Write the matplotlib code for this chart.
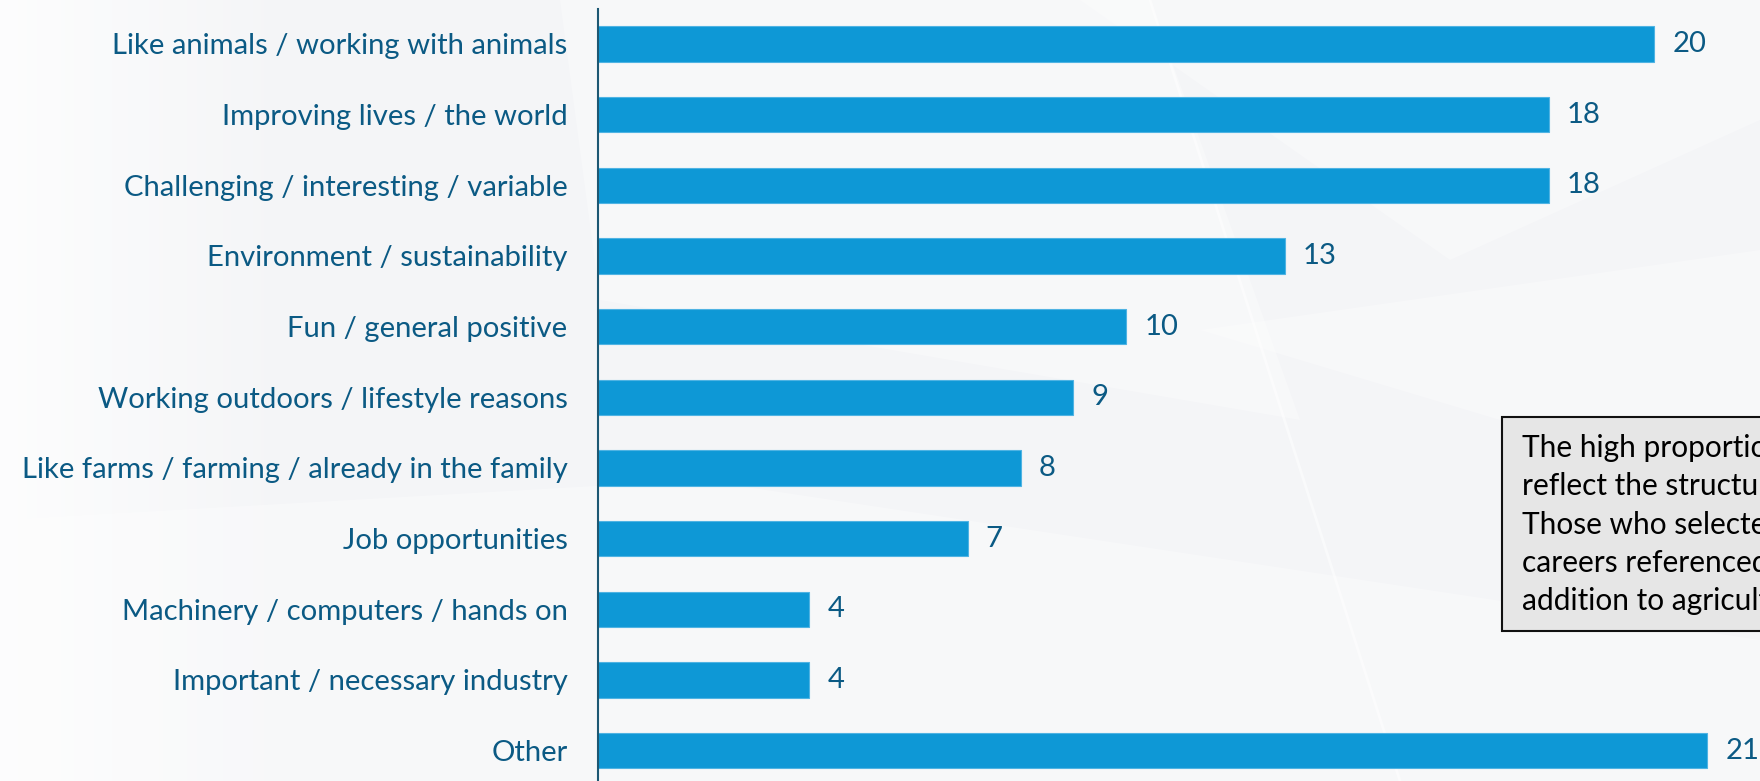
import matplotlib
matplotlib.use("Agg")
import matplotlib.pyplot as plt
from matplotlib.patches import Polygon, Rectangle
import numpy as np

# data, top to bottom
categories = [
    "Like animals / working with animals",
    "Improving lives / the world",
    "Challenging / interesting / variable",
    "Environment / sustainability",
    "Fun / general positive",
    "Working outdoors / lifestyle reasons",
    "Like farms / farming / already in the family",
    "Job opportunities",
    "Machinery / computers / hands on",
    "Important / necessary industry",
    "Other",
]
values = [20, 18, 18, 13, 10, 9, 8, 7, 4, 4, 21]

note_lines = [
    "The high proportion",
    "reflect the structure",
    "Those who selected",
    "careers referenced",
    "addition to agriculture",
]

bar_color = "#0e98d6"
label_color = "#0b5a84"
font = ["Lato", "DejaVu Sans"]

W, H = 1760, 781
fig = plt.figure(figsize=(W / 100, H / 100), dpi=100)
fig.patch.set_facecolor("#f4f5f7")

# faint background shapes (slide template)
bg = fig.add_axes([0, 0, 1, 1], zorder=-10)
bg.set_xlim(0, W)
bg.set_ylim(H, 0)
bg.axis("off")
grad = np.linspace(1, 0, 300)[None, :]
bg.imshow(np.dstack([np.ones((1, 300))] * 3 + [grad * 0.8]), extent=(0, 300, H, 0),
          aspect="auto", zorder=0)
shapes = [
    [(1080, 0), (1760, 0), (1760, 120), (1450, 260)],
    [(1200, 330), (1760, 250), (1760, 420), (1500, 420)],
    [(0, 520), (700, 480), (1760, 640), (1760, 781), (0, 781)],
    [(560, 0), (1150, 0), (1300, 420), (600, 300)],
]
for pts in shapes:
    bg.add_patch(Polygon(pts, closed=True, facecolor="white", alpha=0.3, lw=0, zorder=1))
bg.plot([1150, 1400], [0, 781], color="white", lw=2, alpha=0.5, zorder=2)

# main bar axes
ax = fig.add_axes([598 / W, 0, 1 - 598 / W, (H - 9) / H])
ax.patch.set_alpha(0)
y = np.arange(len(categories))
ax.barh(y, values, height=0.5, color=bar_color, edgecolor="#4fb3e3", linewidth=0.8)
ax.set_xlim(0, 22.0)
ax.set_ylim(10.43, -0.495)

ax.set_yticks(y)
ax.set_yticklabels(categories, fontsize=21.1, color=label_color, family=font)
ax.tick_params(axis="y", length=0, pad=22)
ax.set_xticks([])
for s in ["top", "right", "bottom"]:
    ax.spines[s].set_visible(False)
ax.spines["left"].set_color("#1d5873")
ax.spines["left"].set_linewidth(1.5)

for yi, v in zip(y, values):
    ax.annotate(str(v), (v, yi), xytext=(13, 0), textcoords="offset points",
                va="center", ha="left", fontsize=21.1, color=label_color, family=font)

# note box, runs off the right edge
box_ax = fig.add_axes([0, 0, 1, 1], zorder=5)
box_ax.set_xlim(0, W)
box_ax.set_ylim(H, 0)
box_ax.axis("off")
box_ax.add_patch(Rectangle((1502, 417), 400, 214, facecolor="#e6e6e6",
                           edgecolor="#111111", lw=1.5))
for i, line in enumerate(note_lines):
    box_ax.text(1522, 448 + i * 38.3, line, fontsize=21.5, color="black",
                va="center", ha="left", family=font)

fig.savefig("out.png", dpi=100, facecolor=fig.get_facecolor())
